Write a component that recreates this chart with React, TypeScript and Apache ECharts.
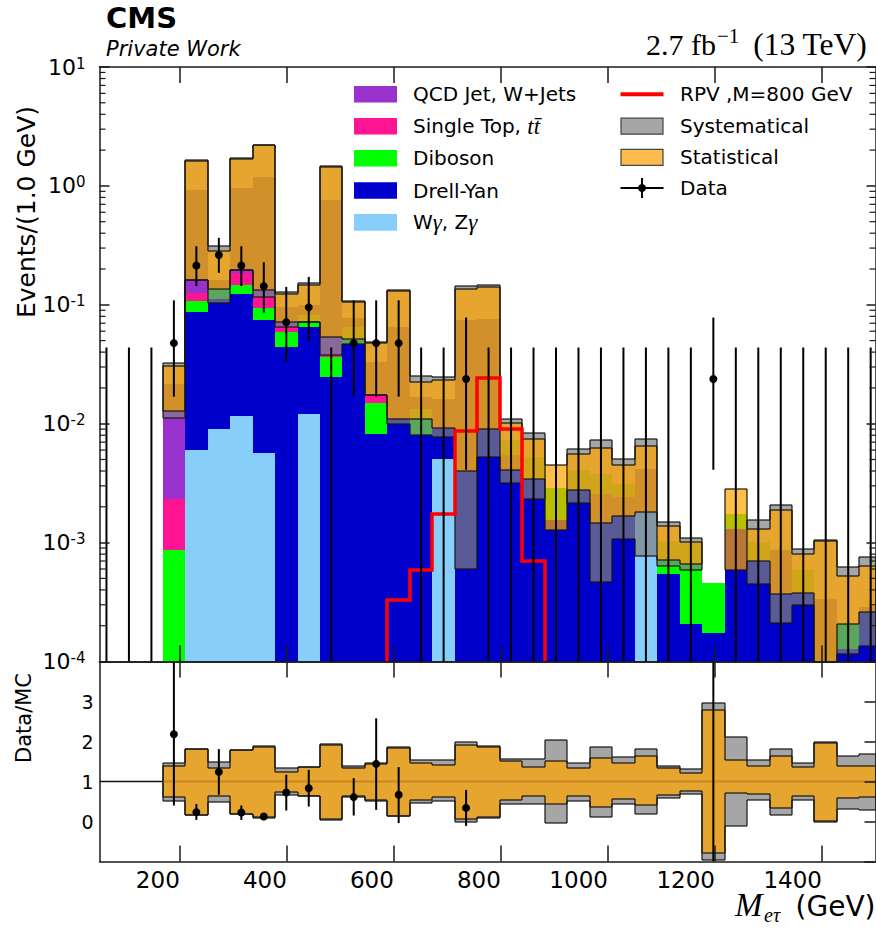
import React, { useEffect, useRef } from "react";
import * as echarts from "echarts";

// ---------- binning / axes ----------
const BIN_WIDTH = 42; // GeV
const N_BINS = 36;
const X_RANGE = [50, 1500];
const Y_RANGE = [1e-4, 10];
const R_RANGE = [-1, 4];
const X_TICKS = [200, 400, 600, 800, 1000, 1200, 1400];
const DECADES = [1e-4, 1e-3, 1e-2, 1e-1, 1];
const MINOR_MULT = [2, 3, 4, 5, 6, 7, 8, 9];
const RATIO_EMPTY_EDGE = 168; // MC starts at this edge

// ---------- stacked backgrounds (events / GeV), bins 0..35 ----------
const wGamma = [0, 0, 0, 0, 0, 6.05e-3, 9.0e-3, 1.17e-2, 5.7e-3, 0, 1.2e-2, 0, 0, 0, 0, 0, 5.0e-3, 0, 0, 0, 0, 0, 0, 0, 0, 1.8e-3, 0, 0, 0, 0, 0, 0, 0, 0, 0, 0];
const drellYan = [0, 0, 0, 0, 0, 0.0813, 0.1039, 0.1111, 0.0694, 0.0443, 0.0532, 0.0247, 0.0466, 8.14e-3, 0.01103, 7.99e-3, 4.27e-3, 4.0e-3, 9.09e-3, 5.42e-3, 3.45e-3, 1.56e-3, 2.75e-3, 2.58e-3, 2.42e-3, 2.38e-3, 5.45e-4, 2.05e-4, 1.75e-4, 1.31e-3, 6.99e-4, 8.6e-4, 3.78e-4, 3.37e-4, 1.28e-4, 2.9e-4];
const diboson = [0, 0, 0, 0, 8.6e-4, 0.0193, 0.0259, 0.0244, 0.0197, 0.0149, 0.0166, 0.01175, 0.0186, 6.8e-3, 0, 5.39e-3, 0, 0, 0, 1.83e-3, 1.8e-3, 1.34e-3, 1.3e-3, 1.22e-3, 7.1e-4, 0, 4.95e-4, 7.95e-4, 2.85e-4, 4.2e-4, 3.11e-4, 0, 2.05e-4, 0, 7.7e-5, 0];
const singleTop = [0, 0, 0, 0, 1.48e-3, 0.0179, 0, 0.0385, 0.0218, 6.0e-3, 0, 1.15e-3, 0, 2.4e-3, 0, 0, 0, 0, 0, 0, 0, 0, 0, 0, 0, 0, 0, 0, 0, 0, 0, 0, 0, 0, 0, 0];
const qcdWjets = [0, 0, 0, 0, 0.01046, 0.0385, 0, 0.0123, 0.0161, 6.6e-3, 0, 0.0161, 0, 0, 0, 0, 0, 0, 0, 0, 0, 0, 0, 0, 0, 0, 0, 0, 0, 0, 0, 0, 0, 0, 0, 0];
// Drell-Yan visible only through the uncertainty bands (top of the masked part)
const dyUnderBand = [0, 0, 0, 0, 0.0217, 0.922, 0.161, 0.964, 1.178, 0.096, 0.0992, 0.759, 0.0776, 0.0331, 0.0652, 0.0168, 0.01626, 0.0742, 0.0766, 0, 0, 0, 0, 0, 0, 0, 0, 0, 0, 0, 0, 0, 0, 0, 0, 0];

// ---------- uncertainty bands, main panel ----------
const sysLo = [0, 0, 0, 0, 0.01125, 0.163, 0.1045, 0.198, 0.1166, 0.0652, 0.0718, 0.0376, 0.0466, 0.01734, 9.9e-3, 7.99e-3, 7.73e-3, 5.95e-4, 5.25e-3, 3.16e-3, 2.34e-3, 0, 2.17e-3, 4.65e-4, 1.08e-3, 7.7e-4, 6.4e-4, 5.9e-4, 0, 0, 4.51e-4, 2.1e-4, 2.96e-4, 1e-6, 1.16e-4, 1.34e-4];
const sysHi = [0, 0, 0, 0, 0.0324, 1.65, 0.315, 1.70, 2.22, 0.1285, 0.154, 1.468, 0.1072, 0.0487, 0.1327, 0.0252, 0.0247, 0.1434, 0.1462, 0.01103, 8.36e-3, 0, 6.17e-3, 7.25e-3, 5.08e-3, 7.5e-3, 1.48e-3, 1.1e-3, 0, 0, 1.54e-3, 2.08e-3, 8.88e-4, 1.06e-3, 6.2e-4, 7.6e-4];
const statLo = [0, 0, 0, 0, 0.0128, 0.163, 0.137, 0.198, 0.1327, 0.0718, 0.0718, 0.0537, 0.0513, 0.01734, 0.01103, 0.01103, 9.27e-3, 4.0e-3, 9.09e-3, 4.05e-3, 3.45e-3, 1.27e-3, 2.75e-3, 1.46e-3, 1.66e-3, 1.8e-3, 7.1e-4, 6.6e-4, 0, 5.83e-4, 6.99e-4, 3.7e-4, 3.78e-4, 1e-6, 2.05e-4, 2.6e-4];
const statHi = [0, 0, 0, 0, 0.0303, 1.62, 0.2825, 1.68, 2.19, 0.1228, 0.148, 1.43, 0.105, 0.0475, 0.130, 0.0225, 0.0232, 0.137, 0.1416, 0.01014, 7.48e-3, 4.47e-3, 5.6e-3, 6.2e-3, 4.5e-3, 6.45e-3, 1.39e-3, 1.02e-3, 0, 2.84e-3, 1.31e-3, 1.89e-3, 8.06e-4, 1.04e-3, 5.2e-4, 6.4e-4];

// ---------- signal ----------
const rpvSignal = [0, 0, 0, 0, 0, 0, 0, 0, 0, 0, 0, 0, 0, 0, 3.26e-4, 5.83e-4, 1.73e-3, 8.63e-3, 0.024, 9.09e-3, 6.98e-4, 0, 0, 0, 0, 0, 0, 0, 0, 0, 0, 0, 0, 0, 0, 0];

// ---------- data (events / GeV) ----------
const dataVal = [0, 0, 0, 0, 0.0476, 0.214, 0.262, 0.214, 0.143, 0.0714, 0.0952, 0, 0.0476, 0.0476, 0.0476, 0, 0, 0.0238, 0, 0, 0, 0, 0, 0, 0, 0, 0, 0, 0.0238, 0, 0, 0, 0, 0, 0, 0];
const dataLo = [0, 0, 0, 0, 0.0169, 0.144, 0.1857, 0.144, 0.0861, 0.0331, 0.0497, 0, 0.0169, 0.0169, 0.0169, 0, 0, 4.1e-3, 0, 0, 0, 0, 0, 0, 0, 0, 0, 0, 4.1e-3, 0, 0, 0, 0, 0, 0, 0];
const dataHi = [0.0437, 0.0437, 0.0437, 0.0437, 0.109, 0.311, 0.366, 0.311, 0.228, 0.1415, 0.1718, 0.0437, 0.109, 0.109, 0.109, 0.0437, 0.0437, 0.0781, 0.0437, 0.0437, 0.0437, 0.0437, 0.0437, 0.0437, 0.0437, 0.0437, 0.0437, 0.0437, 0.0781, 0.0437, 0.0437, 0.0437, 0.0437, 0.0437, 0.0437, 0.0437];

// ---------- ratio panel ----------
const N = null;
const rSysLo = [N, N, N, N, 0.51, 0.16, 0.5, 0.18, 0.1, 0.67, 0.63, 0.05, 0.62, 0.52, 0.14, 0.46, 0.51, 0.0, 0.09, 0.445, 0.435, -0.04, 0.51, 0.125, 0.43, 0.19, 0.58, 0.685, -0.96, -0.1, 0.54, 0.17, 0.54, 0.0, 0.32, 0.29];
const rSysHi = [N, N, N, N, 1.475, 1.82, 1.5, 1.79, 1.885, 1.335, 1.37, 1.93, 1.38, 1.475, 1.86, 1.54, 1.54, 2.0, 1.88, 1.57, 1.57, 2.03, 1.475, 1.86, 1.625, 1.81, 1.39, 1.31, 2.96, 2.11, 1.54, 1.81, 1.475, 2.0, 1.64, 1.69];
const rStatLo = [N, N, N, N, 0.61, 0.17, 0.64, 0.19, 0.11, 0.75, 0.64, 0.06, 0.65, 0.54, 0.15, 0.54, 0.625, 0.06, 0.11, 0.54, 0.64, 0.44, 0.64, 0.375, 0.56, 0.42, 0.67, 0.77, -0.79, 0.71, 0.69, 0.335, 0.64, 0.025, 0.6, 0.61];
const rStatHi = [N, N, N, N, 1.39, 1.81, 1.33, 1.78, 1.875, 1.25, 1.36, 1.92, 1.35, 1.44, 1.85, 1.475, 1.42, 1.92, 1.86, 1.525, 1.36, 1.525, 1.335, 1.6, 1.46, 1.65, 1.335, 1.225, 2.78, 1.54, 1.39, 1.65, 1.36, 1.96, 1.39, 1.39];
const ratioVal = [N, N, N, N, 2.18, 0.235, 1.24, 0.225, 0.125, 0.725, 0.83, N, 0.61, 1.44, 0.67, N, N, 0.34, N, N, N, N, N, N, N, N, N, N, 50, N, N, N, N, N, N, N];
const ratioLo = [N, N, N, N, 0.4, 0.04, 0.67, 0.04, 0.04, 0.275, 0.375, N, 0.15, 0.29, -0.04, N, N, -0.11, N, N, N, N, N, N, N, N, N, N, -2, N, N, N, N, N, N, N];
const ratioHi = [N, N, N, N, 5, 0.435, 1.81, 0.4, 0.18, 1.17, 1.29, N, 1.085, 2.58, 1.36, N, N, 0.79, N, N, N, N, N, N, N, N, N, N, 100, N, N, N, N, N, N, N];

// ---------- styles ----------
const FONT = "DejaVu Sans";
const SERIF = "Liberation Serif";
const C_QCD = "#9932CC";
const C_TOP = "#FF1493";
const C_VV = "#00FF00";
const C_DY = "#0000CD";
const C_WG = "#87CEFA";
const C_SYS = "rgba(128,128,128,0.7)";
const C_STAT = "rgba(255,165,0,0.72)";
const C_EDGE = "rgba(20,20,20,0.8)";
const AX = { color: "#1a1a1a", width: 1.5 };

const STACK = [wGamma, drellYan, diboson, singleTop, qcdWjets];
const STACK_COLORS = [C_WG, C_DY, C_VV, C_TOP, C_QCD];
const STACK_NAMES = ["W\u03b3, Z\u03b3", "Drell-Yan", "Diboson", "Single Top", "QCD Jet, W+Jets"];
const BIN_IDS = Array.from({ length: N_BINS }, (_, i) => i);

function binX(i: number): number[] | null {
  const x0 = Math.max(i * BIN_WIDTH, X_RANGE[0]);
  const x1 = Math.min((i + 1) * BIN_WIDTH, X_RANGE[1]);
  return x1 > x0 ? [x0, x1] : null;
}
const clampLog = (v: number) => Math.min(Y_RANGE[1], Math.max(Y_RANGE[0], v));
const clampLin = (v: number) => Math.min(R_RANGE[1], Math.max(R_RANGE[0], v));
function cumBelow(k: number, i: number) {
  let s = 0;
  for (let j = 0; j < k; j++) s += STACK[j][i];
  return s;
}
const stackTop = (i: number) => cumBelow(STACK.length, i);

function pt(api: any, x: number, y: number) {
  const p = api.coord([x, y]);
  return [Math.round(p[0]), Math.round(p[1])];
}

function fillSeries(name: string, rangeOf: (i: number) => number[] | null, color: string, ratio: boolean, z: number) {
  const clamp = ratio ? clampLin : clampLog;
  return {
    type: "custom",
    name,
    xAxisIndex: ratio ? 2 : 0,
    yAxisIndex: ratio ? 2 : 0,
    z,
    silent: true,
    data: BIN_IDS.map((i) => [i * BIN_WIDTH + BIN_WIDTH / 2, 1, i]),
    encode: { x: 0, y: 1 },
    renderItem: (params: any, api: any) => {
      const i = api.value(2);
      const bx = binX(i);
      if (!bx) return null;
      const r = rangeOf(i);
      if (!r) return null;
      const lo = clamp(r[0]);
      const hi = clamp(r[1]);
      if (hi <= lo) return null;
      const a = pt(api, bx[0], hi);
      const b = pt(api, bx[1], lo);
      return { type: "rect", shape: { x: a[0], y: a[1], width: b[0] - a[0], height: b[1] - a[1] }, style: { fill: color } };
    },
  };
}

function outlineSeries(lo: any[], hi: any[], ratio: boolean, z: number) {
  const clamp = ratio ? clampLin : clampLog;
  const present = (i: number) =>
    i >= 0 && i < N_BINS && !!binX(i) && hi[i] != null && (ratio ? true : hi[i] > 0);
  return {
    type: "custom",
    xAxisIndex: ratio ? 2 : 0,
    yAxisIndex: ratio ? 2 : 0,
    z,
    silent: true,
    data: BIN_IDS.map((i) => [i * BIN_WIDTH + BIN_WIDTH / 2, 1, i]),
    encode: { x: 0, y: 1 },
    renderItem: (params: any, api: any) => {
      const i = api.value(2);
      if (!present(i)) return null;
      const bx = binX(i) as number[];
      const yl = clamp(lo[i]);
      const yh = clamp(hi[i]);
      const segs: number[][][] = [];
      segs.push([pt(api, bx[0], yh), pt(api, bx[1], yh)]);
      segs.push([pt(api, bx[0], yl), pt(api, bx[1], yl)]);
      if (present(i - 1)) {
        segs.push([pt(api, bx[0], clamp(hi[i - 1])), pt(api, bx[0], yh)]);
        segs.push([pt(api, bx[0], clamp(lo[i - 1])), pt(api, bx[0], yl)]);
      } else {
        segs.push([pt(api, bx[0], yl), pt(api, bx[0], yh)]);
      }
      if (!present(i + 1)) segs.push([pt(api, bx[1], yl), pt(api, bx[1], yh)]);
      return {
        type: "group",
        children: segs.map((s) => ({
          type: "line",
          shape: { x1: s[0][0], y1: s[0][1], x2: s[1][0], y2: s[1][1] },
          style: { stroke: C_EDGE, lineWidth: 1.5 },
        })),
      };
    },
  };
}

function buildOption() {
  const xAxisBase = (grid: number, position: string, labels: boolean) => ({
    type: "value",
    gridIndex: grid,
    position,
    min: X_RANGE[0],
    max: X_RANGE[1],
    z: 10,
    axisLine: { show: true, onZero: false, lineStyle: AX },
    axisTick: { show: true, inside: true, length: 16, customValues: X_TICKS, lineStyle: AX },
    axisLabel: {
      show: labels,
      customValues: X_TICKS,
      align: "right",
      margin: 7,
      fontSize: 23,
      fontFamily: FONT,
      color: "#000",
      formatter: (v: number) => String(Math.round(v)),
    },
    splitLine: { show: false },
  });

  const minorValues = DECADES.flatMap((d) => MINOR_MULT.map((m) => m * d));

  const series: any[] = [];
  STACK.forEach((comp, k) => {
    series.push(
      fillSeries(
        STACK_NAMES[k],
        (i) => (comp[i] > 0 ? [cumBelow(k, i), cumBelow(k, i) + comp[i]] : null),
        STACK_COLORS[k],
        false,
        2
      )
    );
  });
  series.push(fillSeries("Drell-Yan (under bands)", (i) => (dyUnderBand[i] > stackTop(i) ? [stackTop(i), dyUnderBand[i]] : null), C_DY, false, 3));
  series.push(fillSeries("Systematical", (i) => (sysHi[i] > 0 ? [sysLo[i], sysHi[i]] : null), C_SYS, false, 4));
  series.push(fillSeries("Statistical", (i) => (statHi[i] > 0 ? [statLo[i], statHi[i]] : null), C_STAT, false, 5));
  series.push(outlineSeries(sysLo, sysHi, false, 6));
  series.push(outlineSeries(statLo, statHi, false, 6));

  // signal
  series.push({
    type: "custom",
    name: "RPV ,M=800 GeV",
    xAxisIndex: 0,
    yAxisIndex: 0,
    z: 7,
    silent: true,
    data: [[775, 1, 0]],
    encode: { x: 0, y: 1 },
    renderItem: (params: any, api: any) => {
      const first = rpvSignal.findIndex((v) => v > 0);
      let last = first;
      rpvSignal.forEach((v, i) => {
        if (v > 0) last = i;
      });
      const pts: number[][] = [pt(api, first * BIN_WIDTH, Y_RANGE[0])];
      for (let i = first; i <= last; i++) {
        const v = clampLog(rpvSignal[i] > 0 ? rpvSignal[i] : Y_RANGE[0]);
        pts.push(pt(api, i * BIN_WIDTH, v));
        pts.push(pt(api, (i + 1) * BIN_WIDTH, v));
      }
      pts.push(pt(api, (last + 1) * BIN_WIDTH, Y_RANGE[0]));
      return { type: "polyline", shape: { points: pts }, style: { stroke: "#ff0000", lineWidth: 3.5, fill: "none" } };
    },
  });

  // data
  series.push({
    type: "custom",
    name: "Data",
    xAxisIndex: 0,
    yAxisIndex: 0,
    z: 8,
    silent: true,
    data: BIN_IDS.map((i) => [i * BIN_WIDTH + BIN_WIDTH / 2, 1, i]),
    encode: { x: 0, y: 1 },
    renderItem: (params: any, api: any) => {
      const i = api.value(2);
      const cx = i * BIN_WIDTH + BIN_WIDTH / 2;
      if (cx < X_RANGE[0] || cx > X_RANGE[1]) return null;
      const lo = clampLog(dataLo[i] > 0 ? dataLo[i] : Y_RANGE[0]);
      const hi = clampLog(dataHi[i]);
      const a = api.coord([cx, lo]);
      const b = api.coord([cx, hi]);
      const children: any[] = [
        { type: "line", shape: { x1: a[0], y1: a[1], x2: b[0], y2: b[1] }, style: { stroke: "#000", lineWidth: 2 } },
      ];
      if (dataVal[i] > 0) {
        const c = api.coord([cx, dataVal[i]]);
        children.push({ type: "circle", shape: { cx: c[0], cy: c[1], r: 4 }, style: { fill: "#000" } });
      }
      return { type: "group", children };
    },
  });

  // minor log ticks
  series.push({
    type: "custom",
    xAxisIndex: 0,
    yAxisIndex: 0,
    z: 9,
    silent: true,
    data: minorValues.map((v) => [X_RANGE[0], v, 0]),
    encode: { x: 0, y: 1 },
    renderItem: (params: any, api: any) => {
      const v = api.value(1);
      const l = api.coord([X_RANGE[0], v]);
      const r = api.coord([X_RANGE[1], v]);
      return {
        type: "group",
        children: [
          { type: "line", shape: { x1: l[0], y1: l[1], x2: l[0] + 6, y2: l[1] }, style: { stroke: "#1a1a1a", lineWidth: 1.2 } },
          { type: "line", shape: { x1: r[0] - 6, y1: r[1], x2: r[0], y2: r[1] }, style: { stroke: "#1a1a1a", lineWidth: 1.2 } },
        ],
      };
    },
  });

  // ratio panel
  series.push(fillSeries("ratio sys", (i) => (rSysHi[i] != null ? [rSysLo[i] as number, rSysHi[i] as number] : null), C_SYS, true, 4));
  series.push(fillSeries("ratio stat", (i) => (rStatHi[i] != null ? [rStatLo[i] as number, rStatHi[i] as number] : null), C_STAT, true, 5));
  series.push(outlineSeries(rSysLo, rSysHi, true, 6));
  series.push(outlineSeries(rStatLo, rStatHi, true, 6));
  series.push({
    type: "line",
    xAxisIndex: 2,
    yAxisIndex: 2,
    z: 7,
    silent: true,
    showSymbol: false,
    data: [[X_RANGE[0], 1], [RATIO_EMPTY_EDGE, 1]],
    lineStyle: { color: "#111", width: 1.5 },
  });
  series.push({
    type: "line",
    xAxisIndex: 2,
    yAxisIndex: 2,
    z: 7,
    silent: true,
    showSymbol: false,
    data: [[RATIO_EMPTY_EDGE, 1], [X_RANGE[1], 1]],
    lineStyle: { color: "rgba(170,95,20,0.45)", width: 2 },
  });
  series.push({
    type: "custom",
    xAxisIndex: 2,
    yAxisIndex: 2,
    z: 8,
    silent: true,
    data: BIN_IDS.map((i) => [i * BIN_WIDTH + BIN_WIDTH / 2, 1, i]),
    encode: { x: 0, y: 1 },
    renderItem: (params: any, api: any) => {
      const i = api.value(2);
      if (ratioVal[i] == null) return null;
      const cx = i * BIN_WIDTH + BIN_WIDTH / 2;
      const a = api.coord([cx, clampLin(ratioLo[i] as number)]);
      const b = api.coord([cx, clampLin(ratioHi[i] as number)]);
      const children: any[] = [
        { type: "line", shape: { x1: a[0], y1: a[1], x2: b[0], y2: b[1] }, style: { stroke: "#000", lineWidth: 2 } },
      ];
      const v = ratioVal[i] as number;
      if (v >= R_RANGE[0] && v <= R_RANGE[1]) {
        const c = api.coord([cx, v]);
        children.push({ type: "circle", shape: { cx: c[0], cy: c[1], r: 4 }, style: { fill: "#000" } });
      }
      return { type: "group", children };
    },
  });

  // legend (graphic)
  const legendLeft = [
    { label: "{n|QCD Jet, W+Jets}", color: C_QCD, y: 94.3 },
    { label: "{n|Single Top, }{m|tt\u0304}", color: C_TOP, y: 126.2 },
    { label: "{n|Diboson}", color: C_VV, y: 158.3 },
    { label: "{n|Drell-Yan}", color: C_DY, y: 190.5 },
    { label: "{n|W}{m|\u03b3}{n|, Z}{m|\u03b3}", color: C_WG, y: 222.4 },
  ];
  const rich = {
    n: { fontSize: 20, fontFamily: FONT, fill: "#000", color: "#000" },
    m: { fontSize: 23, fontFamily: SERIF, fontStyle: "italic", fill: "#000", color: "#000" },
  };
  const graphic: any[] = [];
  legendLeft.forEach((it) => {
    graphic.push({ type: "rect", z: 100, shape: { x: 354, y: it.y - 8.3, width: 43, height: 16.6 }, style: { fill: it.color } });
    graphic.push({ type: "text", z: 100, x: 413, y: it.y, style: { text: it.label, rich, align: "left", verticalAlign: "middle" } });
  });
  graphic.push({ type: "line", z: 100, shape: { x1: 620.5, y1: 94.3, x2: 663.5, y2: 94.3 }, style: { stroke: "#ff0000", lineWidth: 4 } });
  graphic.push({ type: "text", z: 100, x: 680, y: 94.3, style: { text: "{n|RPV ,M=800 GeV}", rich, align: "left", verticalAlign: "middle" } });
  graphic.push({ type: "rect", z: 100, shape: { x: 621, y: 118.2, width: 42, height: 16 }, style: { fill: "#a6a6a6", stroke: "#444", lineWidth: 1.2 } });
  graphic.push({ type: "text", z: 100, x: 680, y: 126.2, style: { text: "{n|Systematical}", rich, align: "left", verticalAlign: "middle" } });
  graphic.push({ type: "rect", z: 100, shape: { x: 621, y: 149.3, width: 42, height: 16 }, style: { fill: "#ffbb4d", stroke: "#444", lineWidth: 1.2 } });
  graphic.push({ type: "text", z: 100, x: 680, y: 157.3, style: { text: "{n|Statistical}", rich, align: "left", verticalAlign: "middle" } });
  graphic.push({ type: "line", z: 100, shape: { x1: 620.5, y1: 188, x2: 663.5, y2: 188 }, style: { stroke: "#000", lineWidth: 2 } });
  graphic.push({ type: "line", z: 100, shape: { x1: 642, y1: 178, x2: 642, y2: 198 }, style: { stroke: "#000", lineWidth: 2 } });
  graphic.push({ type: "circle", z: 100, shape: { cx: 642, cy: 188, r: 4 }, style: { fill: "#000" } });
  graphic.push({ type: "text", z: 100, x: 680, y: 188, style: { text: "{n|Data}", rich, align: "left", verticalAlign: "middle" } });

  // titles
  graphic.push({ type: "text", z: 100, x: 106, y: 18, style: { text: "CMS", fontSize: 29, fontWeight: "bold", fontFamily: FONT, fill: "#000", align: "left", verticalAlign: "middle" } });
  graphic.push({ type: "text", z: 100, x: 106, y: 49, style: { text: "Private Work", fontSize: 21, fontStyle: "italic", fontFamily: FONT, fill: "#000", align: "left", verticalAlign: "middle" } });
  graphic.push({ type: "text", z: 100, x: 646, y: 44, style: { text: "2.7 fb", fontSize: 30, fontFamily: SERIF, fill: "#000", align: "left", verticalAlign: "middle" } });
  graphic.push({ type: "text", z: 100, x: 717, y: 36, style: { text: "\u22121", fontSize: 21, fontFamily: SERIF, fill: "#000", align: "left", verticalAlign: "middle" } });
  graphic.push({ type: "text", z: 100, x: 866.7, y: 44, style: { text: "(13 TeV)", fontSize: 31.5, fontFamily: SERIF, fill: "#000", align: "right", verticalAlign: "middle" } });
  graphic.push({ type: "text", z: 100, x: 26.5, y: 212, rotation: Math.PI / 2, style: { text: "Events/(1.0 GeV)", fontSize: 25, fontFamily: FONT, fill: "#000", align: "center", verticalAlign: "middle" } });
  graphic.push({ type: "text", z: 100, x: 24, y: 718, rotation: Math.PI / 2, style: { text: "Data/MC", fontSize: 21, fontFamily: FONT, fill: "#000", align: "center", verticalAlign: "middle" } });
  graphic.push({ type: "text", z: 100, x: 735, y: 905, style: { text: "M", fontSize: 33, fontStyle: "italic", fontFamily: SERIF, fill: "#000", align: "left", verticalAlign: "middle" } });
  graphic.push({ type: "text", z: 100, x: 764, y: 915, style: { text: "e\u03c4", fontSize: 20, fontStyle: "italic", fontFamily: SERIF, fill: "#000", align: "left", verticalAlign: "middle" } });
  graphic.push({ type: "text", z: 100, x: 875.5, y: 906, style: { text: "(GeV)", fontSize: 28, fontFamily: FONT, fill: "#000", align: "right", verticalAlign: "middle" } });

  return {
    animation: false,
    backgroundColor: "#ffffff",
    grid: [
      { left: 99.5, right: 0.5, top: 67, height: 594.5 },
      { left: 99.5, right: 0.5, top: 661.5, height: 200 },
    ],
    xAxis: [xAxisBase(0, "bottom", false), xAxisBase(0, "top", false), xAxisBase(1, "bottom", true), xAxisBase(1, "top", false)],
    yAxis: [
      {
        type: "log",
        logBase: 10,
        gridIndex: 0,
        position: "left",
        min: Y_RANGE[0],
        max: Y_RANGE[1],
        splitNumber: 5,
        z: 10,
        axisLine: { show: true, lineStyle: AX },
        axisTick: { show: true, inside: true, length: 10, lineStyle: AX },
        axisLabel: {
          margin: 14,
          showMinLabel: true,
          showMaxLabel: true,
          formatter: (v: number) => `{b|10}{s|${Math.round(Math.log10(v))}}`,
          rich: {
            b: { fontSize: 22, lineHeight: 22, fontFamily: FONT, color: "#000", verticalAlign: "middle" },
            s: { fontSize: 15, lineHeight: 15, fontFamily: FONT, color: "#000", verticalAlign: "top", padding: [0, 0, 19, 0] },
          },
        },
        splitLine: { show: false },
      },
      {
        type: "log",
        logBase: 10,
        gridIndex: 0,
        position: "right",
        min: Y_RANGE[0],
        max: Y_RANGE[1],
        splitNumber: 5,
        z: 10,
        axisLine: { show: true, lineStyle: AX },
        axisTick: { show: true, inside: true, length: 9, lineStyle: AX },
        axisLabel: { show: false },
        splitLine: { show: false },
      },
      {
        type: "value",
        gridIndex: 1,
        position: "left",
        min: R_RANGE[0],
        max: R_RANGE[1],
        interval: 1,
        z: 10,
        axisLine: { show: true, onZero: false, lineStyle: AX },
        axisTick: { show: false },
        axisLabel: {
          margin: 6,
          fontSize: 19,
          fontFamily: FONT,
          color: "#000",
          formatter: (v: number) => (v >= 0 && v <= 3 ? String(v) : ""),
        },
        splitLine: { show: false },
      },
      {
        type: "value",
        gridIndex: 1,
        position: "right",
        min: R_RANGE[0],
        max: R_RANGE[1],
        interval: 1,
        z: 10,
        axisLine: { show: true, onZero: false, lineStyle: AX },
        axisTick: { show: true, inside: true, length: 11, lineStyle: AX },
        axisLabel: { show: false },
        splitLine: { show: false },
      },
    ],
    series,
    graphic,
  };
}

export default function App() {
  const ref = useRef<HTMLDivElement>(null);
  useEffect(() => {
    if (!ref.current) return;
    const chart = echarts.init(ref.current, undefined, { renderer: "svg" });
    chart.setOption(buildOption() as any);
    return () => chart.dispose();
  }, []);
  return (
    <div
      ref={ref}
      style={{ position: "absolute", left: 0, top: 0, width: 876, height: 930, background: "#fff" }}
    />
  );
}
